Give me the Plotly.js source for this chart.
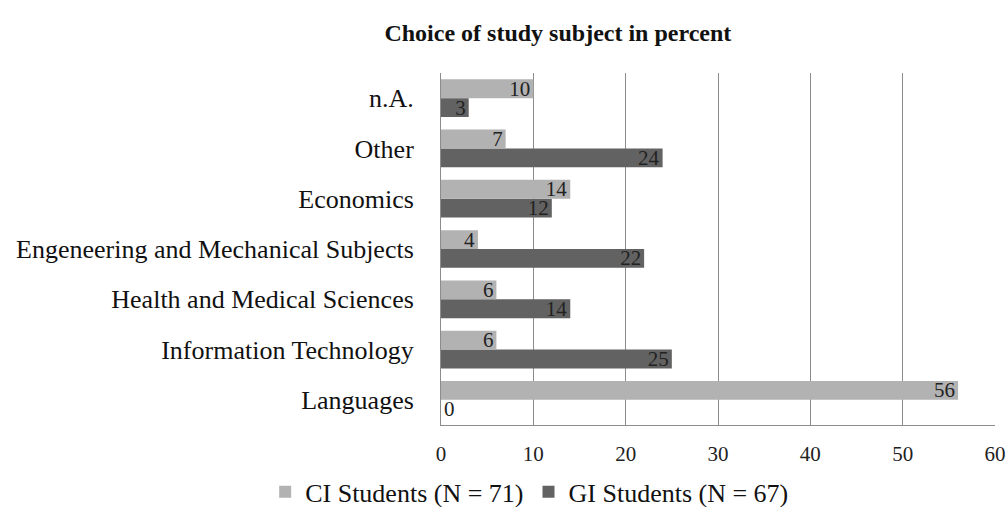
<!DOCTYPE html>
<html>
<head>
<meta charset="utf-8">
<script src="https://cdn.plot.ly/plotly-3.0.1.min.js"></script>
<style>html,body{margin:0;padding:0;background:#fff;}#chart{width:1007px;height:507px;}</style>
</head>
<body>
<div id="chart"></div>
<script>
const categories = ["Languages", "Information Technology", "Health and Medical Sciences", "Engeneering and Mechanical Subjects", "Economics", "Other", "n.A."];
const ciValues = [56, 6, 6, 4, 14, 7, 10];
const giValues = [0, 25, 14, 22, 12, 24, 3];
const ciName = "CI Students (N = 71)";
const giName = "GI Students (N = 67)";

const FONT = "Liberation Serif, Times New Roman, serif";
function pos(vals){ return vals.map(v => v === 0 ? "outside" : "inside"); }

const traces = [
  {
    type: "bar", orientation: "h", name: giName,
    y: categories, x: giValues,
    text: giValues.map(String), textposition: pos(giValues), textangle: 0,
    insidetextanchor: "end", constraintext: "none", cliponaxis: false,
    textfont: {family: FONT, size: 21, color: "#222"},
    marker: {color: "#626262"}, hoverinfo: "x+name"
  },
  {
    type: "bar", orientation: "h", name: ciName,
    y: categories, x: ciValues,
    text: ciValues.map(String), textposition: pos(ciValues), textangle: 0,
    insidetextanchor: "end", constraintext: "none", cliponaxis: false,
    textfont: {family: FONT, size: 21, color: "#222"},
    marker: {color: "#b2b2b2"}, hoverinfo: "x+name"
  }
];

const layout = {
  width: 1007, height: 507,
  margin: {l: 441, r: 12, t: 73, b: 82, pad: 0},
  paper_bgcolor: "#fff", plot_bgcolor: "#fff",
  font: {family: FONT, color: "#222"},
  title: {text: "<b>Choice of study subject in percent</b>", font: {family: FONT, size: 24, color: "#111"},
          x: 0.554, xanchor: "center", xref: "container", y: 0.935, yanchor: "middle", yref: "container"},
  barmode: "group", bargap: 0.25, bargroupgap: 0,
  xaxis: {range: [0, 60], dtick: 10, tick0: 0, showgrid: true, gridcolor: "#8c8c8c", gridwidth: 1,
          zeroline: false, showline: true, linecolor: "#8c8c8c", linewidth: 1,
          ticks: "", ticklen: 0, ticklabelstandoff: 10, tickfont: {family: FONT, size: 21, color: "#222"}, fixedrange: true},
  yaxis: {type: "category", categoryorder: "array", categoryarray: categories, range: [-0.5, 6.5],
          showgrid: false, zeroline: false, showline: true, linecolor: "#8c8c8c", linewidth: 1,
          ticks: "", ticklabelstandoff: 21, tickfont: {family: FONT, size: 26, color: "#111"}, fixedrange: true},
  showlegend: true,
  legend: {orientation: "h", traceorder: "reversed", x: 0.526, xanchor: "center", xref: "container",
           y: 0.03, yanchor: "middle", yref: "container", itemgap: 42,
           font: {family: FONT, size: 26, color: "#111"}},
};

Plotly.newPlot("chart", traces, layout, {displayModeBar: false, staticPlot: true});
</script>
</body>
</html>
